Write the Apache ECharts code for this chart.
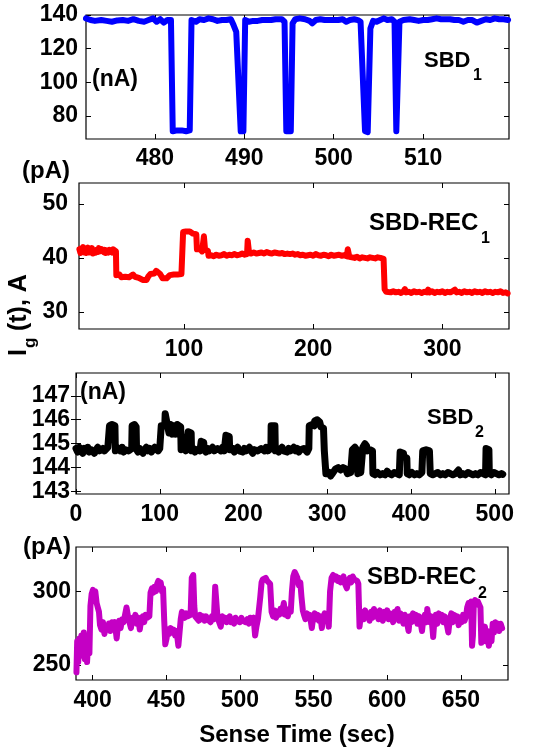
<!DOCTYPE html>
<html>
<head>
<meta charset="utf-8">
<script src="https://cdn.jsdelivr.net/npm/echarts@6/dist/echarts.min.js"></script>
<style>
  html, body { margin: 0; padding: 0; background: #fff; }
  #chart { width: 539px; height: 748px; }
</style>
</head>
<body>
<div id="chart"></div>
<script>
// ---- SBD_1 : gate current (nA) vs sense time ----
const sbd1 = [
  [472.3,138],[472.8,137],[473.3,136.5],[474,137],[474.6,136.5],[475.2,136],[475.8,136.8],[476.4,137],
  [477,136.5],[477.6,137.5],[478.2,136.5],[478.8,136],[479.3,137],[479.8,138],[480.2,136],[480.6,137.5],
  [481,135.5],[481.4,137],[481.8,137],[482.0,71],[482.5,71.5],[483,71.5],[483.5,71],[483.9,71.5],
  [484.1,137],[484.6,136],[485,137.5],[485.5,137],[486,138],[486.5,137.5],[487,136.5],[487.5,137],
  [488,137],[488.5,137.5],[488.8,134],[489.1,130],[489.6,71],[489.9,71],[490.1,137],[490.5,136],
  [491,136.5],[491.5,136.5],[492,137],[492.5,137],[493,137],[493.5,137.5],[494.2,137.5],[494.5,136],
  [494.7,71],[495.2,71],[495.4,135],[495.7,137.5],[496.2,138],[496.8,137.5],[497.3,136.5],[497.6,135],
  [498,137],[498.5,137.5],[499,137],[499.5,137],[500,137],[500.5,137],[501,137.5],[501.4,136],
  [501.8,137],[502.3,137.5],[502.7,137],[503.0,136],[503.5,71],[503.8,70.5],[504.1,132],[504.4,136.5],
  [504.8,136],[505.2,137],[505.6,138],[506,137],[506.5,137.5],[506.8,136],[507.0,71],[507.2,71.5],
  [507.35,136],[507.8,137],[508.5,137.5],[509,137],[509.5,136.5],[510,137],[510.5,137],[511,137.5],
  [511.5,138],[512,137.5],[512.5,137.5],[513,137.5],[513.5,137],[514,137],[514.5,136],[515,137],
  [515.5,137],[516,135.5],[516.5,136.5],[517,137.5],[517.5,137],[518,138],[518.5,137.5],[519,137.5],[519.5,137]
];
const sbd1XTicks = [480, 490, 500, 510];
const sbd1YTicks = [80, 100, 120, 140];

// ---- SBD-REC_1 : gate current (pA) ----
const rec1 = [
  [19,41.6],[19.8,40.9],[20.5,41.8],[21.2,41.1],[22,42.0],[22.7,41.0],[23.4,41.7],[24.2,40.9],[25,41.5],
  [25.7,41.9],[26.4,41.0],[27.2,41.6],[28,41.2],[28.7,41.8],[29.4,40.8],[30.2,41.4],[31,41.7],[31.7,41.0],
  [32.4,41.5],[33.2,41.1],[34,41.8],[34.7,41.2],[35.4,40.9],[36.2,41.6],[37,41.9],[37.7,41.1],[38.4,41.5],
  [39.2,40.9],[40,41.4],[40.7,41.7],[41.4,41.0],[42.2,41.5],[43,41.2],[43.7,41.8],[44.4,41.0],[45.2,41.6],
  [46,41.3],[46.7,41.5],[47.3,41.2],[47.6,36.8],[48.5,36.6],[50,36.9],[51.5,36.4],[53,36.7],[54.5,36.5],
  [56,36.8],[57.5,36.4],[59,36.6],[60.5,36.9],[62,36.5],[63.5,36.7],[65,36.3],[66.5,36.1],[68,35.9],
  [69.5,36.1],[71,35.9],[72.5,36.6],[74,37.0],[75.5,37.3],[77,37.1],[78.5,37.6],[80,37.3],[81.5,37.0],
  [82.5,36.8],[83.5,36.2],[85,36.0],[86.5,36.2],[88,35.9],[89,36.8],[90.5,37.1],[92,36.9],[93.5,37.2],
  [95,36.9],[96.5,37.2],[98,37.0],[99,37.1],[99.3,44.8],[100.2,45.1],[101.5,44.9],[103,45.1],[104.5,44.9],
  [106,45.0],[107,44.5],[108.5,44.2],[109.5,44.4],[110,41.6],[111,41.3],[112.5,41.6],[114,41.2],[115,41.4],
  [115.4,44.0],[115.9,43.8],[116.3,41.5],[117.5,41.6],[118.5,41.3],[119,40.4],[121,40.5],[123,40.3],
  [125,40.6],[127,40.4],[129,40.5],[131,40.7],[133,40.4],[135,40.6],[137,40.5],[139,40.7],[141,40.5],
  [143,40.6],[145,40.8],[147,40.6],[148.8,40.7],[149.3,43.2],[149.9,43.0],[150.4,40.9],[152,40.8],
  [154,41.0],[156,40.8],[158,40.9],[160,41.0],[162,40.8],[164,41.1],[166,40.9],[168,40.8],[170,41.0],
  [172,40.9],[174,40.8],[176,40.9],[178,40.7],[180,40.8],[182,40.7],[184,40.8],[186,40.6],[188,40.7],
  [190,40.5],[192,40.6],[194,40.4],[196,40.5],[198,40.6],[200,40.4],[202,40.7],[204,40.5],[206,40.4],
  [208,40.6],[210,40.5],[212,40.3],[214,40.6],[216,40.4],[218,40.5],[220,40.6],[222,40.4],[224,40.5],
  [226,40.3],[226.8,41.6],[227.4,41.4],[228,40.2],[230,40.1],[232,40.0],[234,40.2],[236,39.9],[238,40.1],
  [240,40.0],[242,39.9],[244,40.1],[246,40.0],[248,39.9],[250,40.1],[252,40.0],[253.5,40.3],[254.5,39.8],
  [255.3,34.2],[256.5,33.7],[258,34.0],[260,33.6],[262,33.8],[264,33.6],[266,33.7],[268,33.5],[270,33.8],
  [271,34.2],[272,33.6],[274,33.7],[276,33.5],[278,33.8],[280,33.6],[282,33.7],[284,33.5],[286,33.7],
  [288,33.6],[289,34.1],[290,33.6],[292,33.8],[294,33.5],[296,33.7],[298,33.6],[300,33.8],[302,33.5],
  [304,33.7],[306,33.6],[308,33.8],[309.7,34.1],[311,33.6],[313,33.7],[315,33.5],[317,33.8],[319,33.6],
  [321,33.7],[323,33.5],[325,33.8],[327,33.6],[329,33.7],[331,33.5],[333,33.8],[335,33.6],[337,33.7],
  [339,33.5],[341,33.7],[343,33.6],[345,33.8],[347,33.5],[349,33.6],[350.5,33.4]
];
const rec1XTicks = [100, 200, 300];
const rec1YTicks = [30, 40, 50];

// ---- SBD_2 : gate current (nA) ----
const sbd2 = [
  [0,144.8],[2,144.65],[4,144.85],[6,144.7],[8,144.6],[10,144.8],[12,144.7],[14,144.85],[16,144.65],
  [18,144.75],[20,144.8],[22,144.6],[24,144.75],[26,144.85],[28,144.7],[30,144.65],[32,144.8],[34,144.7],
  [36,144.75],[38,144.85],[39.5,144.8],[40,145.75],[43,145.8],[46.5,145.75],[47,144.7],[49,144.65],
  [51,144.8],[53,144.7],[55,144.85],[57,144.65],[59,144.75],[61,144.8],[63,144.7],[65,144.75],[66.5,144.8],
  [67,145.75],[70,145.8],[71.8,145.7],[72.3,144.75],[74,144.65],[76,144.8],[78,144.7],[80,144.6],
  [82,144.75],[84,144.85],[86,144.7],[88,144.8],[90,144.65],[92,144.75],[94,144.85],[96,144.8],[98,144.7],
  [100,144.8],[101.2,144.85],[101.8,145.75],[104,145.8],[106,145.75],[106.5,146.25],[108.5,146.3],
  [109,145.8],[111,145.45],[113,145.8],[115,145.4],[117,145.75],[119,145.4],[121,145.8],[123,145.75],
  [125,145.7],[125.5,144.75],[127,144.7],[129,144.85],[131,144.7],[133,144.75],[134,145.5],[137.5,145.45],
  [138,144.7],[140,144.8],[142,144.65],[144,144.75],[146,144.8],[148,144.7],[149.5,145.1],[152.5,145.05],
  [153,144.75],[155,144.65],[157,144.8],[159,144.7],[161,144.75],[163,144.85],[165,144.7],[167,144.65],
  [169,144.8],[171,144.75],[173,144.7],[175,144.85],[177,144.7],[179,145.35],[183,145.3],[183.5,144.75],
  [185,144.7],[187,144.8],[189,144.65],[191,144.75],[193,144.85],[195,144.7],[197,144.75],[199,144.65],
  [201,144.8],[203,144.7],[205,144.75],[207,144.85],[209,144.7],[211,144.6],[213,144.75],[215,144.8],
  [217,144.7],[219,144.65],[221,144.8],[223,144.75],[225,144.7],[227,144.85],[229,144.7],[231,144.75],
  [232.7,144.8],[233,145.75],[237.5,145.75],[238,144.7],[240,144.8],[242,144.65],[244,144.75],[246,144.85],
  [248,144.7],[250,144.75],[252,144.65],[254,144.8],[256,144.7],[258,144.75],[260,144.85],[262,144.7],
  [264,144.8],[266,144.65],[268,144.75],[270,144.7],[272,144.8],[274,144.75],[276,144.65],[278,144.8],
  [278.5,145.75],[282,145.8],[284.5,145.75],[285,145.95],[288,146.0],[291,145.9],[292.4,145.7],
  [295.5,145.65],[296.5,144.7],[298.4,143.75],[300,143.7],[302,143.8],[304,143.65],[306,143.75],
  [308,143.7],[310,143.95],[313,144.0],[316,143.9],[319,144.0],[322,143.95],[324,143.75],[326,143.7],
  [328,143.8],[330,144.75],[333,144.85],[336,144.7],[336.5,143.75],[338,143.7],[340,143.8],[342,143.75],
  [342.5,144.85],[345,145.0],[347,144.9],[348,144.7],[351,144.75],[354,144.7],[354.5,143.75],[357,143.7],
  [360,143.8],[363,143.7],[366,143.75],[369,143.7],[371.5,143.85],[374,143.75],[377,143.7],[380,143.8],
  [383,143.75],[386,143.7],[387,144.65],[391,144.6],[391.5,144.45],[395,144.4],[395.5,143.75],[398,143.7],
  [401,143.8],[404,143.7],[407,143.75],[410,143.7],[413,143.8],[414,144.7],[418,144.75],[422,144.7],
  [423,143.75],[426,143.7],[429,143.75],[432,143.8],[435,143.7],[438,143.75],[441,143.7],[444,143.8],
  [447,143.75],[450,143.7],[453,143.75],[456.7,143.9],[459,143.7],[462,143.75],[465,143.7],[468,143.8],
  [471,143.75],[474,143.7],[477,143.75],[480,143.7],[483,143.8],[486,143.75],[489,143.7],[489.6,144.8],
  [493,144.75],[493.5,143.75],[496,143.7],[499,143.8],[502,143.75],[505,143.7],[508,143.75],[509.5,143.72]
];
const sbd2XTicks = [0, 100, 200, 300, 400, 500];
const sbd2YTicks = [143, 144, 145, 146, 147];

// ---- SBD-REC_2 : gate current (pA) ----
const rec2 = [
  [389,245],[389.5,266],[390.2,252],[391,268],[391.7,256],[392.4,270],[393.2,262],[394,272],[394.7,254],
  [395.4,270],[396.2,252],[397,266],[397.8,258],[398.5,290],[399.3,298],[400.2,301],[401,298],[401.8,300],
  [402.7,292],[403.5,289],[404.3,286],[405,277],[406,274],[407,279],[408,271],[409,276],[410,274],[411,278],
  [412,273],[413,279],[414,276],[415,279],[416.3,268],[417.2,277],[418,280],[419,275],[420,281],[421,279],
  [422,284],[423,289],[424,283],[425,279],[426,275],[427,282],[428,280],[429,284],[430,278],[431,282],
  [432,274],[433,281],[434,283],[435,279],[436,284],[437,282],[438.5,283],[439.3,299],[440.3,302],
  [441.2,299],[442,303],[443,300],[443.8,305],[444.6,307],[445.4,303],[446.2,306],[447,300],[447.8,302],
  [448.6,280],[449.3,264],[450.2,268],[451,274],[452,271],[453,275],[454,272],[455,274],[456,270],[457,273],
  [458.2,263],[459,272],[459.8,281],[460.6,286],[461.6,284],[462.5,282],[463.5,285],[464.5,283],[465.5,282],
  [466.5,284],[467.3,309],[468.3,311],[469,290],[469.6,283],[470.7,282],[472,280],[473,284],[474,281],
  [475,283],[476,280],[477,283],[478,281],[479,282],[480,279],[481,283],[482.3,281],[483.2,303],[484.2,304],
  [484.8,282],[486,281],[487,276],[488,283],[489,280],[490,282],[491,279],[492,281],[493,283],[494,279],
  [495,281],[496,278],[497,282],[498,280],[499,281],[500,279],[501,282],[502,280],[503,281],[504,279],
  [505,281],[506,278],[507,282],[508,280],[509.3,282],[510.3,270],[511.2,276],[512.2,281],[513,280],
  [513.8,296],[514.7,306],[515.5,308],[516.5,307],[517.5,309],[518.5,307],[519.5,308],[520.5,305],
  [521.5,286],[522.5,283],[523.5,287],[524.5,282],[525.5,286],[526.5,284],[527.5,288],[528.5,285],
  [529.8,292],[530.7,284],[531.5,287],[532.5,283],[533.5,288],[534.5,286],[535.3,300],[536.2,310],
  [537.2,313],[538.2,311],[539,309],[540,304],[541,306],[541.8,296],[542.7,287],[543.5,284],[544.5,281],
  [545.5,285],[546.5,282],[547.5,284],[548.8,275],[549.7,282],[550.7,285],[551.7,281],[552.7,284],
  [553.7,280],[554.7,283],[555.6,275],[556.5,282],[557.5,285],[558.5,281],[559.5,284],[560.3,276],
  [561.2,300],[562.2,309],[563.3,311],[564.3,308],[565.3,310],[566.3,307],[567.3,309],[568.3,306],
  [569.3,308],[570.3,310],[571.3,305],[572.6,302],[573.6,307],[574.6,309],[575.6,306],[576.6,310],
  [577.6,308],[578.6,309],[579.6,307],[580.4,305],[581.2,276],[582,283],[583,286],[584,281],[585,287],
  [586,283],[587,285],[588,280],[589,286],[590,282],[591,288],[592,283],[593,286],[594,281],[595,287],
  [596,284],[597,280],[598,286],[599,282],[600,287],[601,281],[602,285],[603,283],[604,279],[605,286],
  [606,282],[607,288],[608,280],[609,285],[610,283],[611,278],[612,284],[613,281],[614.5,273],[615.5,283],
  [616.5,279],[617.5,285],[618.5,280],[619.5,284],[620.5,278],[621.5,283],[622.5,280],[623.6,273],
  [624.5,281],[625.5,284],[626.5,279],[627.2,288],[628,282],[629,279],[630,283],[631.2,269],[632,280],
  [633,284],[634,278],[635,285],[636,281],[637,284],[638,279],[639,283],[640,280],[641.5,272],[642.5,281],
  [643.5,285],[644.5,279],[645.5,284],[646.5,280],[647.5,283],[648.5,277],[649.5,282],[650.5,279],
  [651.5,284],[652.5,280],[653.5,283],[654.3,289],[655.2,292],[656,290],[657,293],[657.6,263],[658.2,270],
  [658.8,292],[659.6,294],[660.5,291],[661.5,293],[662.5,292],[663.3,289],[663.9,265],[664.7,272],
  [665.5,268],[666.3,276],[667.2,266],[668,273],[669,263],[670,270],[670.8,266],[671.6,278],[672.5,272],
  [673.4,279],[674.3,274],[675.2,278],[676,273],[677,278],[678,275]
];
const rec2XTicks = [400, 450, 500, 550, 600, 650];
const rec2YTicks = [250, 300];

// ---- layout & style ----
const FONT = '"Liberation Sans", Arial, Helvetica, sans-serif';
const TICK_SIZE = 23;

const panels = [
  { data: sbd1, color: '#0000ff', width: 6,
    grid: { left: 86, top: 15, width: 423, height: 124 },
    x: [472.3, 519.6], y: [66.4, 140], xTicks: sbd1XTicks, yTicks: sbd1YTicks, xMargin: 8, yMargin: 8 },
  { data: rec1, color: '#ff0000', width: 6,
    grid: { left: 79, top: 183, width: 430, height: 146 },
    x: [18.7, 351.6], y: [26.8, 53.9], xTicks: rec1XTicks, yTicks: rec1YTicks, xMargin: 9, yMargin: 11 },
  { data: sbd2, color: '#000000', width: 7,
    grid: { left: 76, top: 373, width: 433, height: 121 },
    x: [0, 517], y: [142.9, 147.95], xTicks: sbd2XTicks, yTicks: sbd2YTicks, xMargin: 9, yMargin: 6 },
  { data: rec2, color: '#c400c4', width: 6,
    grid: { left: 76, top: 547, width: 432, height: 133 },
    x: [388.7, 682], y: [239.8, 330], xTicks: rec2XTicks, yTicks: rec2YTicks, xMargin: 9, yMargin: 5 }
];

const grids = [], xAxes = [], yAxes = [], series = [];

panels.forEach((p, i) => {
  grids.push(Object.assign({
    show: true, borderColor: '#000', borderWidth: 1.2, backgroundColor: '#fff',
    containLabel: false, outerBoundsMode: 'none'
  }, p.grid));

  const tick = (vals) => ({ show: true, inside: true, length: 5, customValues: vals,
    lineStyle: { color: '#000', width: 1 } });
  const label = (vals, margin) => ({ show: true, customValues: vals, margin: margin,
    color: '#000', fontFamily: FONT, fontWeight: 'bold', fontSize: TICK_SIZE });
  const hidden = { show: false };

  xAxes.push({ type: 'value', gridIndex: i, position: 'bottom', min: p.x[0], max: p.x[1],
    axisLine: hidden, splitLine: hidden, axisTick: tick(p.xTicks), axisLabel: label(p.xTicks, p.xMargin) });
  xAxes.push({ type: 'value', gridIndex: i, position: 'top', min: p.x[0], max: p.x[1],
    axisLine: hidden, splitLine: hidden, axisTick: tick(p.xTicks), axisLabel: hidden });
  yAxes.push({ type: 'value', gridIndex: i, position: 'left', min: p.y[0], max: p.y[1],
    axisLine: hidden, splitLine: hidden, axisTick: tick(p.yTicks), axisLabel: label(p.yTicks, p.yMargin) });
  yAxes.push({ type: 'value', gridIndex: i, position: 'right', min: p.y[0], max: p.y[1],
    axisLine: hidden, splitLine: hidden, axisTick: tick(p.yTicks), axisLabel: hidden });

  series.push({
    type: 'line', xAxisIndex: 2 * i, yAxisIndex: 2 * i, data: p.data,
    showSymbol: false, symbol: 'none', clip: true, silent: true,
    lineStyle: { color: p.color, width: p.width, join: 'round', cap: 'round' }
  });
});

// text annotations
function txt(s, x, y, size, align) {
  return { type: 'text', z: 100, style: {
    text: s, x: x, y: y, fill: '#000', textAlign: align || 'left', textVerticalAlign: 'middle',
    font: 'bold ' + size + 'px ' + FONT } };
}

const graphics = [
  txt('(nA)', 92, 80, 23),
  txt('SBD', 424, 61, 22), txt('1', 473, 76, 16),
  txt('(pA)', 22, 171, 24),
  txt('SBD-REC', 369, 223, 24), txt('1', 481, 239, 16),
  txt('(nA)', 80, 393, 23),
  txt('SBD', 427, 418, 22), txt('2', 475, 433, 16),
  txt('(pA)', 23, 547, 24),
  txt('SBD-REC', 367, 577, 24), txt('2', 478, 594, 16),
  txt('Sense Time (sec)', 297, 735, 24, 'center'),
  { type: 'group', x: 32, y: 356, rotation: Math.PI / 2, z: 100, children: [
    { type: 'text', style: { text: 'I', x: 0, y: 0, textVerticalAlign: 'bottom', fill: '#000',
      font: 'bold 25px ' + FONT } },
    { type: 'text', style: { text: 'g', x: 8, y: 7, textVerticalAlign: 'bottom', fill: '#000',
      font: 'bold 17px ' + FONT } },
    { type: 'text', style: { text: ' (t), A', x: 18, y: 0, textVerticalAlign: 'bottom', fill: '#000',
      font: 'bold 25px ' + FONT } }
  ]}
];

const chart = echarts.init(document.getElementById('chart'), null, { renderer: 'canvas' });
chart.setOption({
  animation: false,
  backgroundColor: '#fff',
  grid: grids,
  xAxis: xAxes,
  yAxis: yAxes,
  series: series,
  graphic: graphics
});
</script>
</body>
</html>
